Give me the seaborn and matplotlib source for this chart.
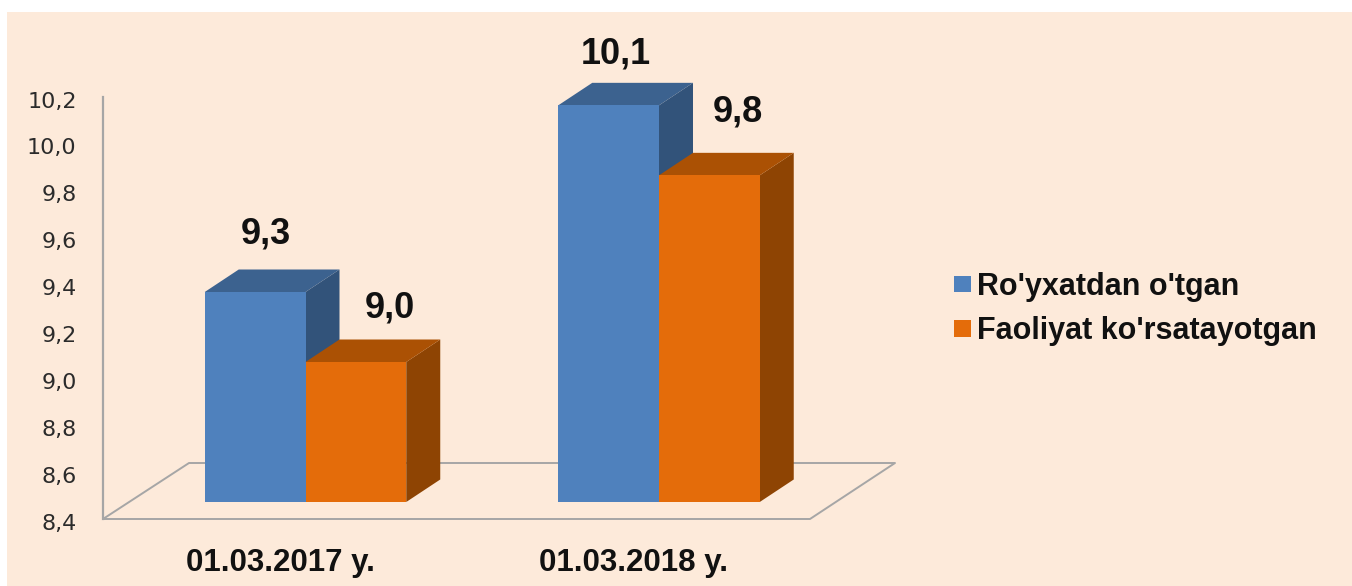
import matplotlib
matplotlib.use("Agg")
import matplotlib.pyplot as plt
import matplotlib.patches as mpatches
from matplotlib.lines import Line2D
from matplotlib.transforms import ScaledTranslation
import pandas as pd
import seaborn as sns

# --- data ---
dates = ["01.03.2017 y.", "01.03.2018 y."]
registered = [9.3, 10.1]
active = [9.0, 9.8]
series_names = ["Ro'yxatdan o'tgan", "Faoliyat ko'rsatayotgan"]
y_ticks = [8.4, 8.6, 8.8, 9.0, 9.2, 9.4, 9.6, 9.8, 10.0, 10.2]
y_tick_labels = ["8,4", "8,6", "8,8", "9,0", "9,2", "9,4", "9,6", "9,8", "10,0", "10,2"]

# --- style ---
W, H = 1352, 586
BG = "#FDEADA"
GREY = "#A6A6A6"
FRONT = ["#4F81BD", "#E46C0A"]
TOP = ["#3C628F", "#AB5104"]
SIDE = ["#32537A", "#8E4403"]
LABEL_OFFSETS = [(11, 58), (34, 54), (7, 51), (29, 63)]   # pixels, per label
DEPTH_X, DEPTH_Y = 34, 22.5                                # pixels

sns.set_theme(style="white")
plt.rcParams["font.family"] = ["Liberation Sans", "DejaVu Sans"]


def box(left, top, right, bottom):
    return [left / W, 1 - bottom / H, (right - left) / W, (bottom - top) / H]


def px(x, y):
    return x / W, 1 - y / H


fig = plt.figure(figsize=(W / 100, H / 100), dpi=100, facecolor="white")
fig.add_artist(mpatches.Rectangle(px(7, H), (W - 7) / W, (H - 12) / H,
                                  transform=fig.transFigure, fc=BG, ec="none", zorder=-5))

# floor / walls
floor = [(103, 519), (189, 463), (895, 463), (810, 519), (103, 519)]
fig.add_artist(Line2D([px(*p)[0] for p in floor], [px(*p)[1] for p in floor],
                      transform=fig.transFigure, color=GREY, lw=1.4, zorder=-4))

# value axis on the back wall
wall = fig.add_axes(box(103, 97, 810, 519), facecolor="none", zorder=1)
wall.set_ylim(y_ticks[0], y_ticks[-1])
wall.set_xticks([])
wall.set_yticks(y_ticks, y_tick_labels)
wall.tick_params(axis="y", length=0, pad=19, labelsize=16, labelcolor="#2b2b2b")
for lab in wall.get_yticklabels():
    lab.set_fontfamily("DejaVu Sans")
    lab.set_transform(lab.get_transform() + ScaledTranslation(0, -2.5 / 100, fig.dpi_scale_trans))
for name, sp in wall.spines.items():
    sp.set_visible(name == "left")
wall.spines["left"].set_color(GREY)
wall.spines["left"].set_linewidth(1.6)

# bars on the front plane
df = pd.DataFrame({
    "date": dates * 2,
    "value": registered + active,
    "series": [series_names[0]] * 2 + [series_names[1]] * 2,
})
ax = fig.add_axes(box(128.75, 82, 835.75, 502), facecolor="none", zorder=2)
sns.barplot(data=df, x="date", y="value", hue="series", hue_order=series_names,
            palette=FRONT, saturation=1, width=0.57, gap=0, dodge=True, ax=ax, linewidth=0)
ax.set_xlim(-0.5, 1.5)
ax.set_ylim(y_ticks[0], y_ticks[-1])
ax.set_xlabel("")
ax.set_ylabel("")
ax.set_yticks([])
for sp in ax.spines.values():
    sp.set_visible(False)
ax.tick_params(axis="x", length=0, pad=33, labelsize=22.5, labelcolor="#111111")
for lab in ax.get_xticklabels():
    lab.set_fontweight("bold")
    lab.set_transform(lab.get_transform() + ScaledTranslation(-25.5 / 100, 0, fig.dpi_scale_trans))

unit_x = (ax.get_xlim()[1] - ax.get_xlim()[0]) / 707
unit_y = (ax.get_ylim()[1] - ax.get_ylim()[0]) / 420
dx, dy = DEPTH_X * unit_x, DEPTH_Y * unit_y
base = ax.get_ylim()[0]

bars = [b for b in ax.patches if b.get_height() > 0]
bars = bars[:4]
for i, bar in enumerate(bars):
    series = i // 2
    z = 2 + series * 3
    x0, x1, h = bar.get_x(), bar.get_x() + bar.get_width(), bar.get_height()
    bar.set_zorder(z + 2)
    ax.add_patch(mpatches.Polygon([(x1, base), (x1 + dx, base + dy), (x1 + dx, h + dy), (x1, h)],
                                  fc=SIDE[series], ec="none", zorder=z, clip_on=False))
    ax.add_patch(mpatches.Polygon([(x0, h), (x0 + dx, h + dy), (x1 + dx, h + dy), (x1, h)],
                                  fc=TOP[series], ec="none", zorder=z + 1, clip_on=False))
    off = LABEL_OFFSETS[[0, 2, 1, 3][i]]
    ax.annotate(f"{h:.1f}".replace(".", ","), xy=((x0 + x1) / 2, h), xytext=off,
                textcoords="offset pixels", ha="center", va="center",
                fontsize=26, fontweight="bold", color="#111111", zorder=20, annotation_clip=False)

handles = [mpatches.Patch(fc=c, ec="none") for c in FRONT]
leg = ax.legend(handles, series_names, loc="upper left",
                bbox_to_anchor=px(954, 272), bbox_transform=fig.transFigure,
                frameon=False, borderaxespad=0, borderpad=0,
                prop={"family": "Liberation Sans", "weight": "bold", "size": 22},
                handlelength=0.56, handleheight=0.46, handletextpad=0.2, labelspacing=0.47)
for t in leg.get_texts():
    t.set_color("#111111")

fig.savefig("out.png", dpi=100, facecolor=fig.get_facecolor())
